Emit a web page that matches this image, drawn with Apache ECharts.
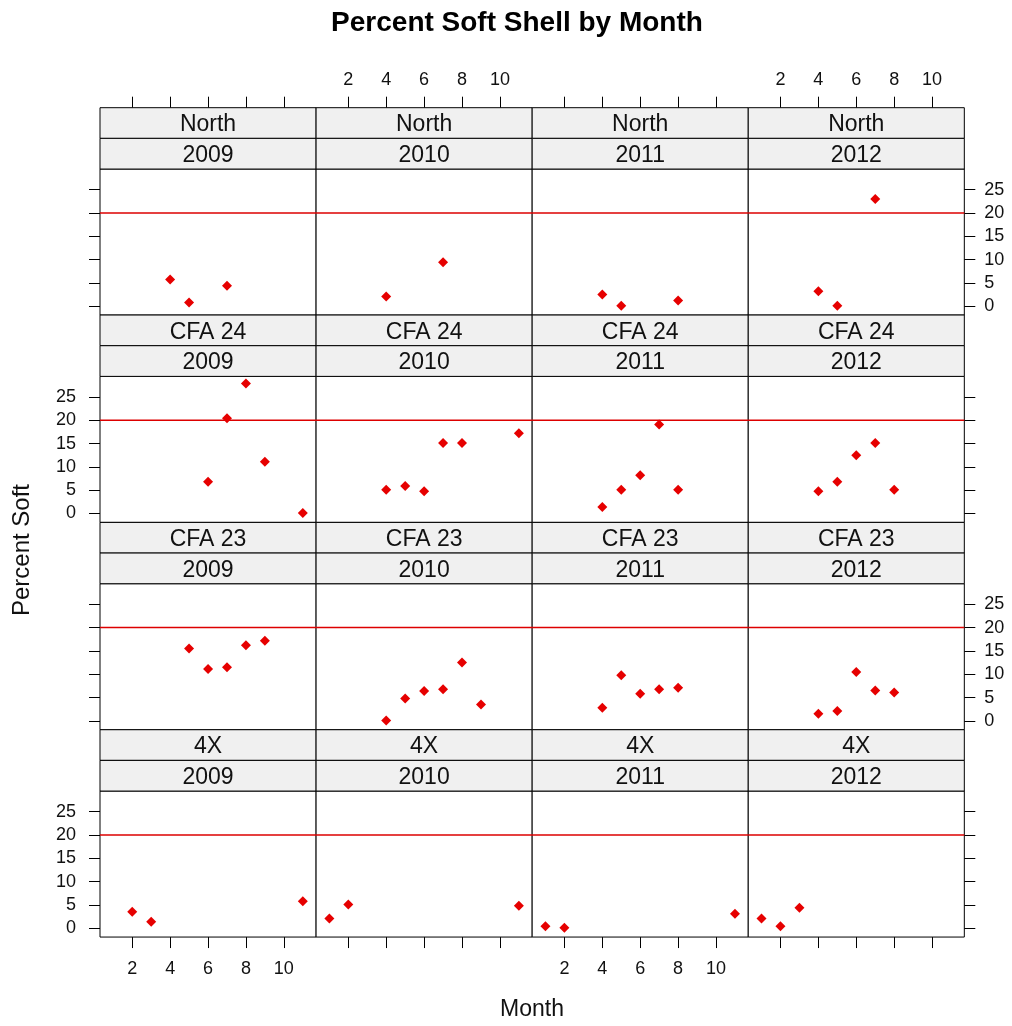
<!DOCTYPE html>
<html>
<head>
<meta charset="utf-8">
<script src="https://cdn.jsdelivr.net/npm/echarts@6/dist/echarts.min.js"></script>
<style>html,body{margin:0;padding:0;background:#fff;}#c{width:1012px;height:1026px;}</style>
</head>
<body>
<div id="c"></div>
<script>
// ---- data ----
const regions = ['North', 'CFA 24', 'CFA 23', '4X'];
const years = ['2009', '2010', '2011', '2012'];
const xTicks = [2, 4, 6, 8, 10];
const yTicks = [0, 5, 10, 15, 20, 25];
const threshold = 20;

// [month, percent soft]
const north2009 = [[4, 5.7], [5, 0.8], [7, 4.4]];
const north2010 = [[4, 2.1], [7, 9.4]];
const north2011 = [[4, 2.5], [5, 0.1], [8, 1.2]];
const north2012 = [[4, 3.2], [5, 0.1], [7, 23.0]];

const cfa24_2009 = [[6, 6.8], [7, 20.4], [8, 27.9], [9, 11.1], [11, 0.1]];
const cfa24_2010 = [[4, 5.1], [5, 5.9], [6, 4.8], [7, 15.1], [8, 15.1], [11, 17.2]];
const cfa24_2011 = [[4, 1.4], [5, 5.1], [6, 8.2], [7, 19.1], [8, 5.1]];
const cfa24_2012 = [[4, 4.8], [5, 6.8], [6, 12.5], [7, 15.1], [8, 5.1]];

const cfa23_2009 = [[5, 15.5], [6, 11.1], [7, 11.5], [8, 16.2], [9, 17.2]];
const cfa23_2010 = [[4, 0.1], [5, 4.8], [6, 6.4], [7, 6.8], [8, 12.5], [9, 3.5]];
const cfa23_2011 = [[4, 2.8], [5, 9.8], [6, 5.8], [7, 6.8], [8, 7.1]];
const cfa23_2012 = [[4, 1.5], [5, 2.1], [6, 10.5], [7, 6.5], [8, 6.1]];

const x4_2009 = [[2, 3.5], [3, 1.4], [11, 5.8]];
const x4_2010 = [[1, 2.1], [2, 5.1], [11, 4.8]];
const x4_2011 = [[1, 0.4], [2, 0.1], [11, 3.1]];
const x4_2012 = [[1, 2.1], [2, 0.4], [3, 4.4]];

const panelData = [
  [north2009, north2010, north2011, north2012],
  [cfa24_2009, cfa24_2010, cfa24_2011, cfa24_2012],
  [cfa23_2009, cfa23_2010, cfa23_2011, cfa23_2012],
  [x4_2009, x4_2010, x4_2011, x4_2012]
];

// ---- layout ----
const FONT = '"Liberation Sans", Arial, sans-serif';
const LEFT = 100, COLW = 216.08, TOP = 107.7, STRIPH = 30.67, PANELH = 146;
const ROWH = 2 * STRIPH + PANELH;
const XMIN = 0.3, XMAX = 11.7, YMIN = -1.9, YMAX = 29.4;

const grids = [], xAxes = [], yAxes = [], series = [], graphics = [];

for (let r = 0; r < 4; r++) {
  for (let c = 0; c < 4; c++) {
    const i = r * 4 + c;
    const gx = LEFT + c * COLW;
    const stripTop = TOP + r * ROWH;
    const gy = stripTop + 2 * STRIPH;
    grids.push({
      left: gx, top: gy, width: COLW, height: PANELH,
      show: true, borderColor: '#000', borderWidth: 1, backgroundColor: '#fff',
      containLabel: false
    });
    const xLabel = (r === 0 && c % 2 === 1) || (r === 3 && c % 2 === 0);
    xAxes.push({
      gridIndex: i, type: 'value', min: XMIN, max: XMAX,
      show: r === 0 || r === 3,
      position: r === 0 ? 'top' : 'bottom',
      offset: r === 0 ? 2 * STRIPH : 0,
      axisLine: { show: false, onZero: false },
      splitLine: { show: false },
      axisTick: { show: true, inside: false, length: 11, customValues: xTicks, lineStyle: { color: '#000', width: 1 } },
      axisLabel: { show: xLabel, customValues: xTicks, margin: r === 0 ? 19 : 23, fontSize: 18, color: '#111', fontFamily: FONT }
    });
    const yLabel = (c === 0 && r % 2 === 1) || (c === 3 && r % 2 === 0);
    yAxes.push({
      gridIndex: i, type: 'value', min: YMIN, max: YMAX,
      show: c === 0 || c === 3,
      position: c === 0 ? 'left' : 'right',
      axisLine: { show: false, onZero: false },
      splitLine: { show: false },
      axisTick: { show: true, inside: false, length: 11, customValues: yTicks, lineStyle: { color: '#000', width: 1 } },
      axisLabel: { show: yLabel, customValues: yTicks, margin: c === 0 ? 24 : 20, fontSize: 18, color: '#111', fontFamily: FONT }
    });
    // reference line at threshold
    series.push({
      type: 'line', xAxisIndex: i, yAxisIndex: i,
      data: [[XMIN, threshold], [XMAX, threshold]],
      symbol: 'none', silent: true, z: 1,
      lineStyle: { color: '#dd0000', width: 1.5 }
    });
    series.push({
      type: 'scatter', xAxisIndex: i, yAxisIndex: i,
      data: panelData[r][c],
      symbol: 'diamond', symbolSize: 10, z: 3,
      itemStyle: { color: '#e60000', opacity: 1 },
      silent: true
    });
    // strips
    const labels = [regions[r], years[c]];
    for (let s = 0; s < 2; s++) {
      graphics.push({
        type: 'rect', z: 100,
        shape: { x: gx, y: stripTop + s * STRIPH, width: COLW, height: STRIPH },
        style: { fill: '#f0f0f0', stroke: '#000', lineWidth: 1 }
      });
      graphics.push({
        type: 'text', z: 101,
        x: gx + COLW / 2, y: stripTop + s * STRIPH + STRIPH / 2 + 2,
        style: { text: labels[s], font: '23px ' + FONT, fill: '#111', align: 'center', verticalAlign: 'middle', textAlign: 'center', textVerticalAlign: 'middle' }
      });
    }
  }
}

graphics.push({
  type: 'text', z: 100, x: 22, y: 550, rotation: Math.PI / 2,
  style: { text: 'Percent Soft', font: '24px ' + FONT, fill: '#111', align: 'center', verticalAlign: 'middle', textAlign: 'center', textVerticalAlign: 'middle' }
});
graphics.push({
  type: 'text', z: 100, x: 532, y: 1010,
  style: { text: 'Month', font: '23px ' + FONT, fill: '#111', align: 'center', verticalAlign: 'middle', textAlign: 'center', textVerticalAlign: 'middle' }
});

const chart = echarts.init(document.getElementById('c'), null, { renderer: 'canvas' });
chart.setOption({
  animation: false,
  backgroundColor: '#fff',
  title: {
    text: 'Percent Soft Shell by Month', left: 517, top: 9, textAlign: 'center', padding: 0,
    textStyle: { fontFamily: FONT, fontWeight: 'bold', fontSize: 28, color: '#000' }
  },
  grid: grids,
  xAxis: xAxes,
  yAxis: yAxes,
  series: series,
  graphic: graphics
});
</script>
</body>
</html>
